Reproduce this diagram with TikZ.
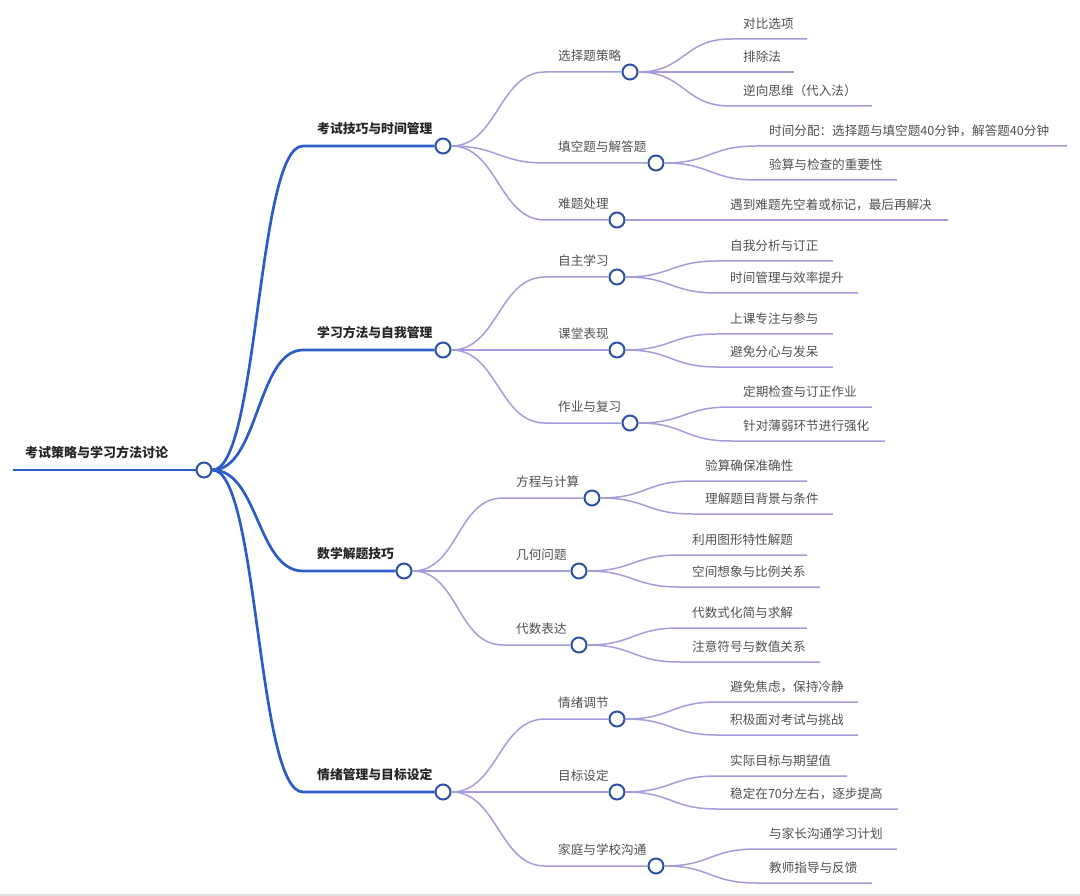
\documentclass[tikz,border=0pt]{standalone}
\usepackage{fontspec}
\setmainfont{Noto Sans CJK SC}
\definecolor{trunkblue}{HTML}{2C5CC5}
\definecolor{ringblue}{HTML}{2E50A6}
\definecolor{twiglav}{HTML}{A39DDA}
\definecolor{labelgray}{HTML}{505050}
\tikzset{
  hub/.style={
    shape = circle,
    draw = ringblue,
    fill = white,
    line width = 2pt,
    minimum size = 15pt,
    inner sep = 0pt
  },
  trunk/.style={
    draw = trunkblue,
    line width = 2.7pt
  },
  twig/.style={
    draw = twiglav,
    line width = 1.5pt
  },
}
\tikzset{
  rootlabel/.style={
    anchor = west,
    inner sep = 0pt,
    font = \fontsize{13}{16}\selectfont\bfseries,
    text = black!85
  },
  topic/.style={
    anchor = west,
    inner sep = 0pt,
    font = \fontsize{12.8}{15}\selectfont\bfseries,
    text = black!85
  },
  leaf/.style={
    anchor = west,
    inner sep = 0pt,
    font = \fontsize{12.6}{15}\selectfont,
    text = labelgray
  },
}
\begin{document}
\begin{tikzpicture}[x=1pt, y=-1pt]
\useasboundingbox (0,0) rectangle (1080,896);
\draw[black!12, line width=2pt] (0,894.5) -- (1080,894.5);
% root
\coordinate (rs) at (13,470);
\node[hub] (root) at (204,470) {};
\node[rootlabel] (rootl) at (25,452) {考试策略与学习方法讨论};
\draw[trunk] (rs) -- (root.west);
% topics
\foreach \n/\x/\y/\txt in {A/443/146/考试技巧与时间管理, B/443/350/学习方法与自我管理,
    C/404/571/数学解题技巧, D/443/792/情绪管理与目标设定}{
  \node[hub] (\n) at (\x,\y) {};
  \coordinate (s\n) at (303,\y);
  \node[topic] (l\n) at (317,\y-17) {\txt};
  \draw[trunk] (root.east) .. controls +(46,0) and +(-46,0) .. (s\n) -- (\n.west);
}
% subtopics
\foreach \p/\h/\n/\x/\y/\txt in {A/545/a1/630/72/选择题策略, A/545/a2/656/163/填空题与解答题,
    A/545/a3/617/220/难题处理, B/545/b1/617/277/自主学习, B/545/b2/617/350/课堂表现,
    B/545/b3/630/423/作业与复习, C/503/c1/592/498/方程与计算, C/503/c2/579/571/几何问题,
    C/503/c3/579/645/代数表达, D/545/d1/617/719/情绪调节, D/545/d2/617/792/目标设定,
    D/545/d3/656/866/家庭与学校沟通}{
  \node[hub] (\n) at (\x,\y) {};
  \coordinate (s\n) at (\h,\y);
  \node[leaf] (l\n) at (\h+13,\y-16) {\txt};
  \draw[twig] (\p.east) .. controls +(46,0) and +(-46,0) .. (s\n) -- (\n.west);
}
% leaves
\foreach \p/\h/\y/\e/\txt [count=\i] in {a1/730/39/807/对比选项, a1/730/72/794/排除法,
    a1/730/106/872/逆向思维（代入法）,
    a2/756/146/1067/时间分配：选择题与填空题40分钟，解答题40分钟,
    a2/756/180/897/验算与检查的重要性,
    a3/717/220/948/遇到难题先空着或标记，最后再解决,
    b1/717/261/833/自我分析与订正, b1/717/293/858/时间管理与效率提升,
    b2/717/334/833/上课专注与参与, b2/717/367/833/避免分心与发呆,
    b3/730/407/872/定期检查与订正作业, b3/730/441/885/针对薄弱环节进行强化,
    c1/692/481/807/验算确保准确性, c1/692/514/833/理解题目背景与条件,
    c2/679/555/807/利用图形特性解题, c2/679/587/820/空间想象与比例关系,
    c3/679/628/807/代数式化简与求解, c3/679/662/820/注意符号与数值关系,
    d1/717/702/858/避免焦虑，保持冷静, d1/717/735/858/积极面对考试与挑战,
    d2/717/776/847/实际目标与期望值, d2/717/809/898/稳定在70分左右，逐步提高,
    d3/756/849/897/与家长沟通学习计划, d3/756/883/872/教师指导与反馈}{
  \coordinate (s\i) at (\h,\y);
  \coordinate (e\i) at (\e,\y);
  \node[leaf] (t\i) at (\h+13,\y-15) {\txt};
  \draw[twig] (\p.east) .. controls +(46,0) and +(-46,0) .. (s\i) -- (e\i);
}
\end{tikzpicture}
\end{document}
